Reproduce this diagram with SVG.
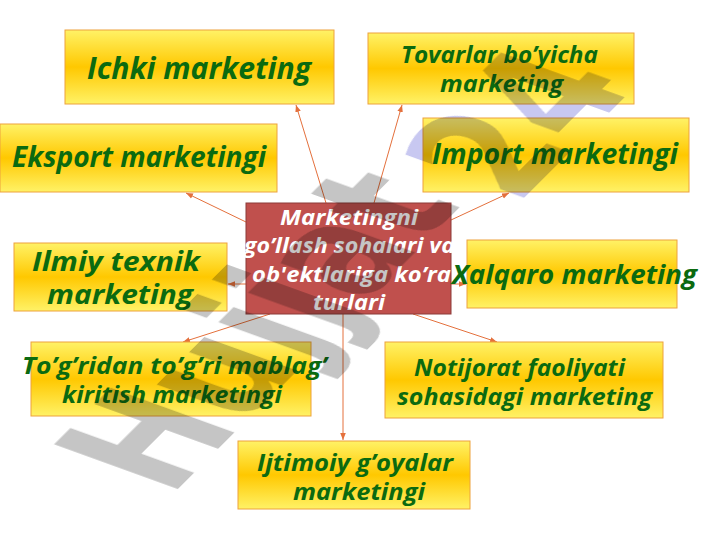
<svg xmlns="http://www.w3.org/2000/svg" width="720" height="540" viewBox="0 0 720 540">
<defs>
<linearGradient id="gold" x1="0" y1="0" x2="0" y2="1">
<stop offset="0" stop-color="#fff266"/>
<stop offset="0.5" stop-color="#ffc800"/>
<stop offset="1" stop-color="#fff266"/>
</linearGradient>
<marker id="ah" viewBox="0 0 10 10" refX="10" refY="5" markerWidth="7" markerHeight="7" orient="auto" markerUnits="userSpaceOnUse">
<path d="M0,1 L10,5 L0,9 Z" fill="#e4703c"/>
</marker>
<style>
.box{fill:url(#gold);stroke:#eda23c;stroke-width:1}
.t{font-family:"Open Sans","Noto Sans",sans-serif;font-weight:bold;font-style:italic;fill:#0b6a10}
.c{font-family:"Open Sans","Noto Sans",sans-serif;font-weight:bold;font-style:italic;fill:#ffffff;font-size:22px}
.ln{stroke:#e4703c;stroke-width:1;fill:none;marker-end:url(#ah)}
.wm{font-family:"DejaVu Sans",sans-serif;font-weight:bold;font-size:100px}
</style>
</defs>
<rect width="720" height="540" fill="#ffffff"/>

<g id="connectors">
<line class="ln" x1="326" y1="203" x2="296" y2="105"/>
<line class="ln" x1="374" y1="203" x2="402" y2="105"/>
<line class="ln" x1="246" y1="222" x2="186" y2="193"/>
<line class="ln" x1="451" y1="220" x2="509" y2="193"/>
<line class="ln" x1="246" y1="284" x2="228" y2="284"/>
<line class="ln" x1="451" y1="284" x2="466" y2="284"/>
<line class="ln" x1="270" y1="314" x2="183" y2="342"/>
<line class="ln" x1="413" y1="314" x2="497" y2="342"/>
<line class="ln" x1="343" y1="314" x2="343" y2="440"/>
</g>

<g id="n-ichki">
<rect class="box" x="65" y="30" width="269" height="74"/>
<text class="t" x="87" y="79" font-size="30" textLength="224" lengthAdjust="spacingAndGlyphs">Ichki marketing</text>
</g>
<g id="n-tovarlar">
<rect class="box" x="368" y="33" width="266" height="71"/>
<text class="t" x="401" y="63" font-size="23" textLength="197" lengthAdjust="spacingAndGlyphs">Tovarlar bo’yicha</text>
<text class="t" x="440" y="92" font-size="23" textLength="123" lengthAdjust="spacingAndGlyphs">marketing</text>
</g>
<g id="n-eksport">
<rect class="box" x="0" y="124" width="277" height="68"/>
<text class="t" x="12" y="167" font-size="28" textLength="254" lengthAdjust="spacingAndGlyphs">Eksport marketingi</text>
</g>
<g id="n-import">
<rect class="box" x="423" y="118" width="266" height="74"/>
<text class="t" x="432" y="164" font-size="28" textLength="246" lengthAdjust="spacingAndGlyphs">Import marketingi</text>
</g>
<g id="n-center">
<rect x="246" y="203" width="205" height="111" fill="#c0504d" stroke="#8c3a38" stroke-width="1"/>
<text class="c" x="280" y="225" textLength="138" lengthAdjust="spacingAndGlyphs">Marketingni</text>
<text class="c" x="244" y="253" textLength="211" lengthAdjust="spacingAndGlyphs">go’llash sohalari va</text>
<text class="c" x="252" y="282" textLength="199" lengthAdjust="spacingAndGlyphs">ob'ektlariga ko’ra</text>
<text class="c" x="313" y="310" textLength="72" lengthAdjust="spacingAndGlyphs">turlari</text>
</g>
<g id="n-ilmiy">
<rect class="box" x="14" y="243" width="213" height="68"/>
<text class="t" x="32" y="271" font-size="26" textLength="168" lengthAdjust="spacingAndGlyphs">Ilmiy texnik</text>
<text class="t" x="47" y="304" font-size="26" textLength="146" lengthAdjust="spacingAndGlyphs">marketing</text>
</g>
<g id="n-xalqaro">
<rect class="box" x="467" y="240" width="210" height="68"/>
<text class="t" x="452" y="284" font-size="27" textLength="245" lengthAdjust="spacingAndGlyphs">Xalqaro marketing</text>
</g>
<g id="n-togridan">
<rect class="box" x="31" y="342" width="280" height="74"/>
<text class="t" x="22" y="374" font-size="23" textLength="305" lengthAdjust="spacingAndGlyphs">To’g’ridan to’g’ri mablag’</text>
<text class="t" x="62" y="403" font-size="23" textLength="220" lengthAdjust="spacingAndGlyphs">kiritish marketingi</text>
</g>
<g id="n-notijorat">
<rect class="box" x="385" y="342" width="278" height="76"/>
<text class="t" x="414" y="376" font-size="23" textLength="211" lengthAdjust="spacingAndGlyphs">Notijorat faoliyati</text>
<text class="t" x="397" y="405" font-size="23" textLength="255" lengthAdjust="spacingAndGlyphs">sohasidagi marketing</text>
</g>
<g id="n-ijtimoiy">
<rect class="box" x="238" y="441" width="232" height="68"/>
<text class="t" x="257" y="471" font-size="23" textLength="196" lengthAdjust="spacingAndGlyphs">Ijtimoiy g’oyalar</text>
<text class="t" x="293" y="500" font-size="23" textLength="132" lengthAdjust="spacingAndGlyphs">marketingi</text>
</g>

<g id="watermark" style="mix-blend-mode:multiply" opacity="0.5">
<text class="wm" transform="matrix(0.865,-0.865,1.70,0.615,170,497)" fill="#8a8a8a">Hujjat</text>
<text class="wm" transform="matrix(0.865,-0.865,1.70,0.615,225,497)" x="338" fill="#9090e2">24</text>
</g>
</svg>
